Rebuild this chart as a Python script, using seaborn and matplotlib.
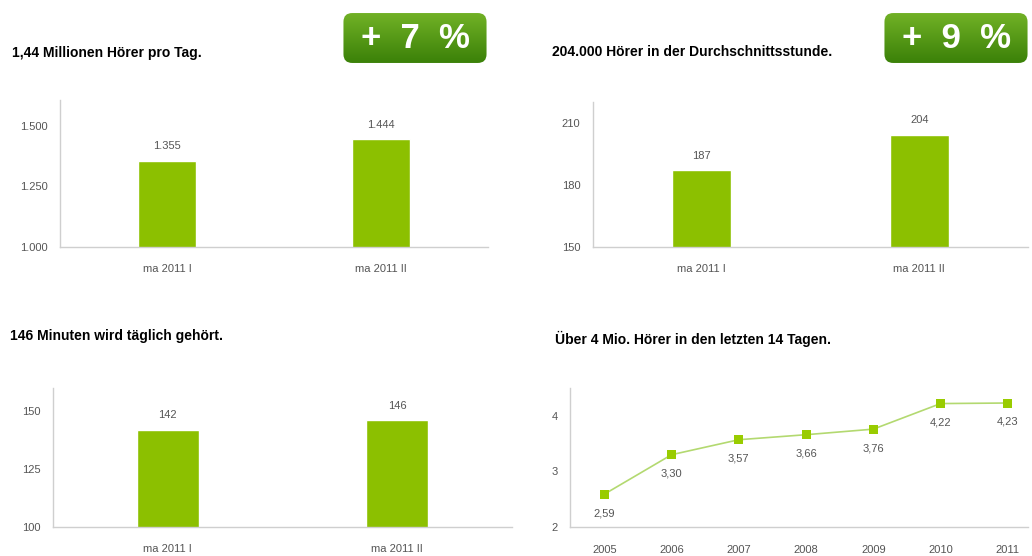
import matplotlib
matplotlib.use("Agg")
import matplotlib.pyplot as plt
import seaborn as sns
import numpy as np
import pandas as pd
from matplotlib.patches import FancyBboxPatch

# data
kategorien = ["ma 2011 I", "ma 2011 II"]
hoerer_tag = [1355, 1444]
hoerer_stunde = [187, 204]
minuten = [142, 146]
jahre = [2005, 2006, 2007, 2008, 2009, 2010, 2011]
hoerer_14tage = [2.59, 3.30, 3.57, 3.66, 3.76, 4.22, 4.23]

titel = ["1,44 Millionen Hörer pro Tag.",
         "204.000 Hörer in der Durchschnittsstunde.",
         "146 Minuten wird täglich gehört.",
         "Über 4 Mio. Hörer in den letzten 14 Tagen."]
badges = ["+ 7 %", "+ 9 %"]

sns.set_theme(style="white")
plt.rcParams['font.family'] = ['Liberation Sans', 'DejaVu Sans']

W, H = 1032, 556
fig = plt.figure(figsize=(W / 100, H / 100), dpi=100)

def px_axes(l, t, r, b):
    return fig.add_axes([l / W, 1 - b / H, (r - l) / W, (b - t) / H])

gruen = "#8cc000"
grau = "#555555"
achse = "#cfcfcf"
fs = 8

def style(ax):
    sns.despine(ax=ax, top=True, right=True)
    for s in ["left", "bottom"]:
        ax.spines[s].set_color(achse)
        ax.spines[s].set_linewidth(1.0)
    ax.tick_params(axis="y", length=3, color=achse, labelsize=fs, labelcolor=grau, pad=6)
    ax.tick_params(axis="x", which="major", length=0, labelsize=fs, labelcolor=grau, pad=12)
    ax.tick_params(axis="x", which="minor", length=3, color=achse)
    ax.set_xlabel("")
    ax.set_ylabel("")

def bar_chart(ax, werte, ylim, yticks, fmt):
    df = pd.DataFrame({"kat": kategorien, "wert": werte})
    sns.barplot(data=df, x="kat", y="wert", color=gruen, saturation=1, width=0.27, ax=ax)
    ax.set_xlim(-0.5, 1.5)
    ax.set_ylim(*ylim)
    ax.set_yticks(yticks)
    ax.set_yticklabels([fmt(v) for v in yticks])
    ax.set_xticks([-0.5, 0.5, 1.5], minor=True)
    for i, v in enumerate(werte):
        ax.annotate(fmt(v), (i, v), xytext=(0, 7), textcoords="offset points",
                    ha="center", va="bottom", fontsize=fs, color=grau)
    style(ax)

tausend = lambda v: f"{v:,.0f}".replace(",", ".")
ganz = lambda v: f"{v:.0f}"

ax1 = px_axes(60, 100, 488, 247)
bar_chart(ax1, hoerer_tag, (1000, 1607), [1000, 1250, 1500], tausend)

ax2 = px_axes(593, 102, 1028, 247)
bar_chart(ax2, hoerer_stunde, (150, 220), [150, 180, 210], ganz)

ax3 = px_axes(53, 388, 512, 527)
bar_chart(ax3, minuten, (100, 160), [100, 125, 150], ganz)

ax4 = px_axes(570, 388, 1028, 527)
df4 = pd.DataFrame({"jahr": jahre, "wert": hoerer_14tage})
sns.lineplot(data=df4, x="jahr", y="wert", color="#b3d970", linewidth=1.2, ax=ax4)
sns.scatterplot(data=df4, x="jahr", y="wert", color="#99cc00", marker="s", s=42,
                edgecolor="none", ax=ax4, zorder=3)
ax4.set_xlim(2004.49, 2011.3)
ax4.set_ylim(2, 4.5)
ax4.set_yticks([2, 3, 4])
ax4.set_xticks(jahre)
ax4.set_xticklabels([str(j) for j in jahre])
ax4.set_xticks([j + 0.5 for j in jahre[:-1]], minor=True)
for j, v in zip(jahre, hoerer_14tage):
    ax4.annotate(f"{v:.2f}".replace(".", ","), (j, v), xytext=(0, -10),
                 textcoords="offset points", ha="center", va="top", fontsize=fs, color=grau)
style(ax4)
ax4.tick_params(axis="x", which="major", pad=13)

# titles
for (x, y), t in zip([(12, 53), (552, 52), (10, 336), (555, 339)], titel):
    fig.text(x / W, 1 - y / H, t, fontsize=10, fontweight="bold", color="black",
             ha="left", va="center")

# badges
grad = np.linspace(0, 1, 100).reshape(-1, 1)
cmap = matplotlib.colors.LinearSegmentedColormap.from_list("g", ["#3a8008", "#72b226"])
for (l, r), t in zip([(342, 488), (883, 1029)], badges):
    bax = px_axes(l, 12, r, 64)
    bax.set_axis_off()
    im = bax.imshow(grad, aspect="auto", extent=(0, 1, 0, 1), origin="lower", cmap=cmap)
    box = FancyBboxPatch((0.01, 0.02), 0.98, 0.96, boxstyle="round,pad=0,rounding_size=0.06",
                         transform=bax.transAxes, facecolor="none", edgecolor="none",
                         mutation_aspect=2.8)
    bax.add_patch(box)
    im.set_clip_path(box)
    bax.set_xlim(0, 1)
    bax.set_ylim(0, 1)
    bax.text(0.5, 0.5, t.replace(" ", "  "), ha="center", va="center", fontsize=25,
             fontweight="bold", color="white", transform=bax.transAxes)

fig.savefig("out.png", dpi=100)
